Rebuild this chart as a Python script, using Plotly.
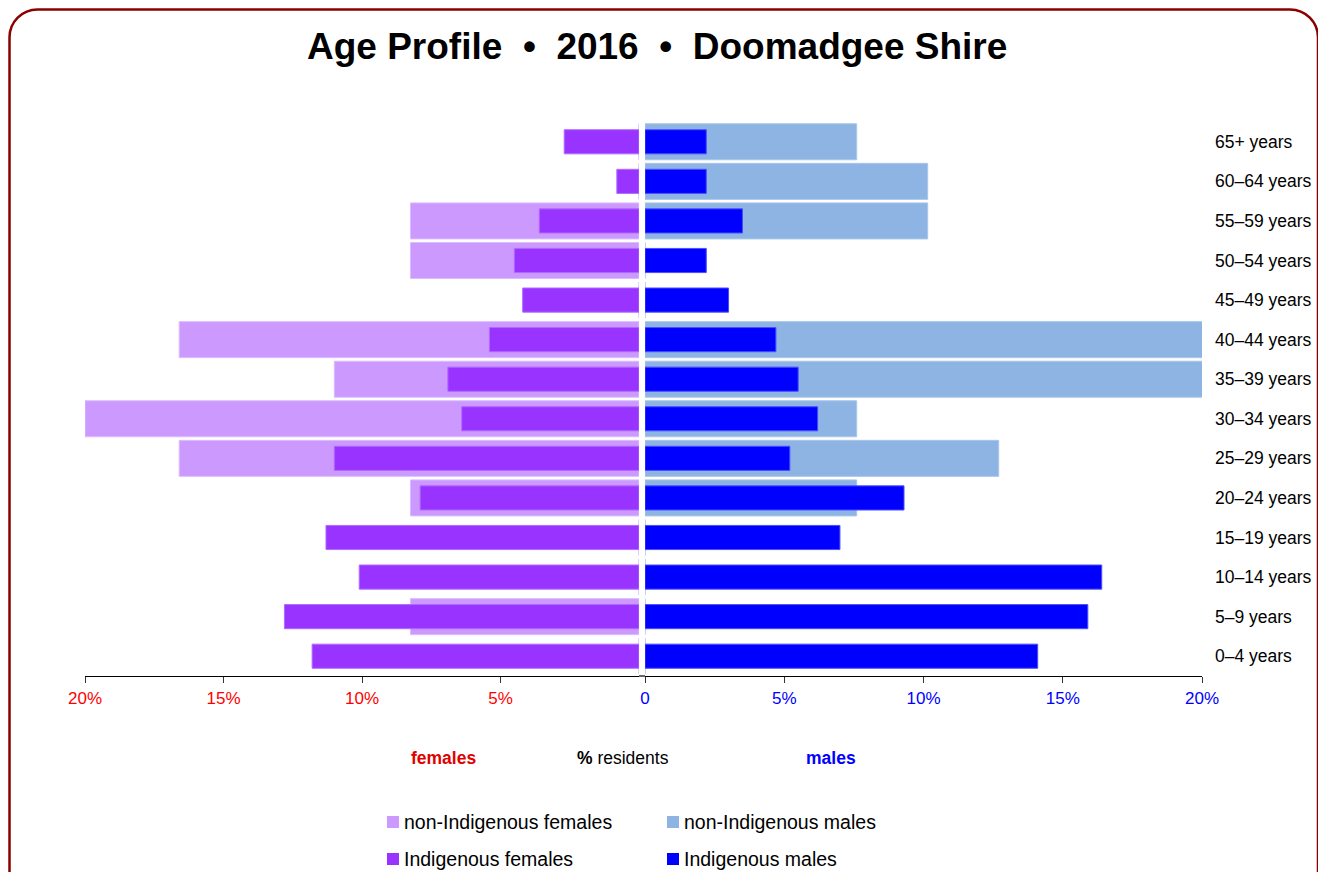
import plotly.graph_objects as go

# The page body has an 8px margin, so the figure is drawn 8px in from the corner.
OFF = 8
W, H = 1326 - OFF, 872 - OFF

age_groups = ["0–4 years", "5–9 years", "10–14 years", "15–19 years", "20–24 years",
              "25–29 years", "30–34 years", "35–39 years", "40–44 years", "45–49 years",
              "50–54 years", "55–59 years", "60–64 years", "65+ years"]

nonindig_females = [0, 8.25, 0, 0, 8.25, 16.6, 20.0, 11.0, 16.6, 0, 8.25, 8.25, 0, 0]
indig_females = [11.8, 12.8, 10.1, 11.3, 7.9, 11.0, 6.4, 6.9, 5.4, 4.2, 4.5, 3.6, 0.8, 2.7]
nonindig_males = [0, 0, 0, 0, 7.6, 12.7, 7.6, 20.5, 20.5, 0, 0, 10.15, 10.15, 7.6]
indig_males = [14.1, 15.9, 16.4, 7.0, 9.3, 5.2, 6.2, 5.5, 4.7, 3.0, 2.2, 3.5, 2.2, 2.2]

female_ticks = [20, 15, 10, 5]
female_ticktext = ["20%", "15%", "10%", "5%"]
male_ticks = [0, 5, 10, 15, 20]
male_ticktext = ["0", "5%", "10%", "15%", "20%"]

C_NF = "#cc99ff"
C_IF = "#9933ff"
C_NM = "#8db4e2"
C_IM = "#0000ff"
RED = "#ff0000"
BLUE = "#0000ff"
BORDER = "#8b0000"

SANS = "Liberation Sans, Arial, Helvetica, sans-serif"


def px(x):
    return (x - OFF) / W


def py(y):
    return 1 - (y - OFF) / H


fig = go.Figure()

fig.add_trace(go.Bar(y=age_groups, x=nonindig_females, orientation="h", width=0.91,
                     marker=dict(color=C_NF, line=dict(color="#dcbcff", width=1)),
                     xaxis="x", yaxis="y", name="non-Indigenous females", showlegend=False))
fig.add_trace(go.Bar(y=age_groups, x=indig_females, orientation="h", width=0.61,
                     marker=dict(color=C_IF, line=dict(color="#b06aff", width=1)),
                     xaxis="x", yaxis="y", name="Indigenous females", showlegend=False))
fig.add_trace(go.Bar(y=age_groups, x=nonindig_males, orientation="h", width=0.91,
                     marker=dict(color=C_NM, line=dict(color="#a9c6ea", width=1)),
                     xaxis="x2", yaxis="y2", name="non-Indigenous males", showlegend=False))
fig.add_trace(go.Bar(y=age_groups, x=indig_males, orientation="h", width=0.61,
                     marker=dict(color=C_IM, line=dict(color="#4d4dff", width=1)),
                     xaxis="x2", yaxis="y2", name="Indigenous males", showlegend=False))

axis_common = dict(showline=True, linecolor="black", linewidth=1.2, ticks="outside",
                   ticklen=6, tickcolor="#333333", showgrid=False, zeroline=False,
                   automargin=False, fixedrange=True)

fig.update_layout(
    width=W, height=H,
    template="none",
    barmode="overlay",
    paper_bgcolor="white", plot_bgcolor="white",
    margin=dict(l=0, r=0, t=0, b=0),
    xaxis=dict(domain=[px(85), px(639)], range=[20, 0], anchor="y",
               tickvals=female_ticks, ticktext=female_ticktext,
               tickfont=dict(family=SANS, size=17, color=RED), **axis_common),
    xaxis2=dict(domain=[px(645), px(1202)], range=[0, 20], anchor="y2",
                tickvals=male_ticks, ticktext=male_ticktext,
                tickfont=dict(family=SANS, size=17, color=BLUE), **axis_common),
    yaxis=dict(domain=[py(676), py(122)], anchor="x", type="category",
               categoryorder="array", categoryarray=age_groups, range=[-0.5, 13.5],
               showticklabels=False, showline=False, showgrid=False, zeroline=False,
               ticks="", automargin=False, fixedrange=True),
    yaxis2=dict(domain=[py(676), py(122)], anchor="x2", type="category", side="right",
                categoryorder="array", categoryarray=age_groups, range=[-0.5, 13.5],
                showticklabels=True, showline=False, showgrid=False, zeroline=False,
                ticks="", ticklabelstandoff=12,
                tickfont=dict(family=SANS, size=17.5, color="black"),
                automargin=False, fixedrange=True),
    showlegend=False,
)

shapes = []
# connect the axis line across the gap at zero
shapes.append(dict(type="line", xref="paper", yref="paper", x0=px(639), x1=px(645),
                   y0=py(676), y1=py(676), line=dict(color="black", width=1.2)))

# rounded border (open at the bottom, as in the reference)
r = 28
x0b, y0b, x1b, y1b = 9.5, 9.5, 1318, 900
k = 0.5523 * r
path = (
    f"M {px(x0b)},{py(y1b)} "
    f"L {px(x0b)},{py(y0b + r)} "
    f"C {px(x0b)},{py(y0b + r - k)} {px(x0b + r - k)},{py(y0b)} {px(x0b + r)},{py(y0b)} "
    f"L {px(x1b - r)},{py(y0b)} "
    f"C {px(x1b - r + k)},{py(y0b)} {px(x1b)},{py(y0b + r - k)} {px(x1b)},{py(y0b + r)} "
    f"L {px(x1b)},{py(y1b)}"
)
shapes.append(dict(type="path", xref="paper", yref="paper", path=path,
                   line=dict(color=BORDER, width=2.5)))

# legend
legend_items = [
    ("non-Indigenous females", C_NF, 387, 822),
    ("non-Indigenous males", C_NM, 667, 822),
    ("Indigenous females", C_IF, 387, 859),
    ("Indigenous males", C_IM, 667, 859),
]
annotations = []
for label, color, lx, ly in legend_items:
    shapes.append(dict(type="rect", xref="paper", yref="paper",
                       x0=px(lx), x1=px(lx + 12), y0=py(ly + 6), y1=py(ly - 6),
                       fillcolor=color, line=dict(width=0)))
    annotations.append(dict(text=label, x=px(lx + 15), y=py(ly), xref="paper", yref="paper",
                            xanchor="left", yanchor="middle", showarrow=False,
                            font=dict(family=SANS, size=19.5, color="black")))

annotations.append(dict(text="<b>Age Profile  •  2016  •  Doomadgee Shire</b>",
                        x=px(657), y=py(46), xref="paper", yref="paper",
                        xanchor="center", yanchor="middle", showarrow=False,
                        font=dict(family=SANS, size=37, color="black")))
annotations.append(dict(text="<b>females</b>", x=px(443), y=py(758), xref="paper", yref="paper",
                        xanchor="center", yanchor="middle", showarrow=False,
                        font=dict(family=SANS, size=17.5, color="#e00000")))
annotations.append(dict(text="<b>%</b> residents", x=px(623), y=py(758), xref="paper", yref="paper",
                        xanchor="center", yanchor="middle", showarrow=False,
                        font=dict(family=SANS, size=17.5, color="black")))
annotations.append(dict(text="<b>males</b>", x=px(831), y=py(758), xref="paper", yref="paper",
                        xanchor="center", yanchor="middle", showarrow=False,
                        font=dict(family=SANS, size=17.5, color=BLUE)))

fig.update_layout(shapes=shapes, annotations=annotations)

fig.write_html("out.html")
